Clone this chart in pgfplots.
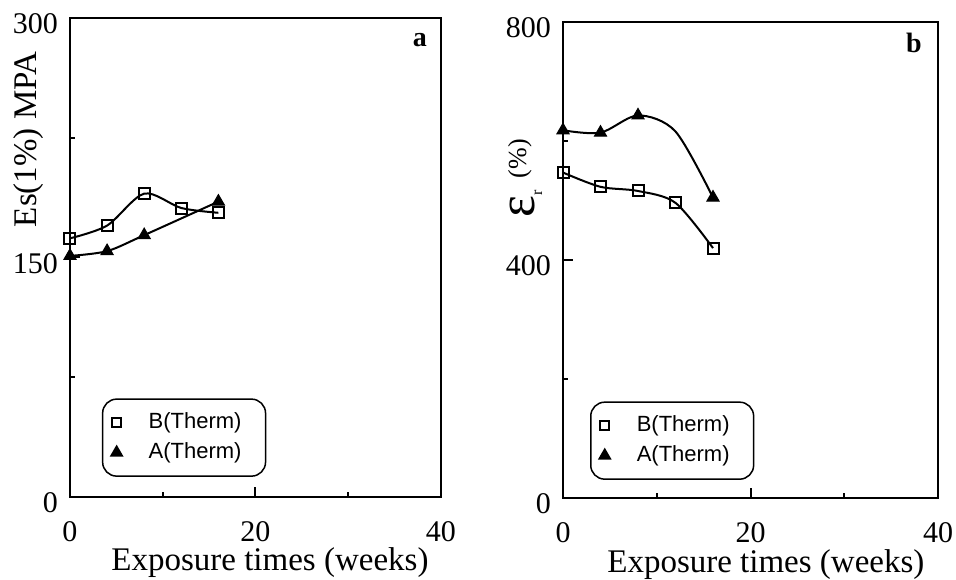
\documentclass[border=0pt]{standalone}
\usepackage{fontspec}
\setmainfont{Liberation Serif}
\newfontfamily\legfont{Liberation Sans}
\usepackage{pgfplots}
\pgfplotsset{compat=1.18}
\begin{document}
\begin{tikzpicture}
\path[use as bounding box] (0,0) rectangle (956pt,579pt);
\pgfplotsset{
 every axis/.append style={
  scale only axis, anchor=south west,
  axis line style={line width=2.2pt},
  tick pos=left, tick align=inside,
  major tick length=10pt, minor tick length=5pt,
  every tick/.style={line width=2pt, black},
  xmin=0, xmax=40, xtick={0,20,40}, minor xtick={10,30},
  ticklabel style={font=\fontsize{30}{30}\selectfont},
  xticklabel style={anchor=base, yshift=-44pt},
  yticklabel style={anchor=east, inner sep=0pt, xshift=-12pt, yshift=-6pt},
  /pgf/number format/assume math mode=true,
  label style={font=\fontsize{33}{33}\selectfont},
  xlabel style={anchor=base},
  legend style={font=\legfont\fontsize{22}{24}\selectfont, rounded corners=14pt, line width=1.5pt, draw=black, anchor=south west,
    inner xsep=5pt, inner ysep=10pt, row sep=3pt,
    nodes={inner xsep=3pt, inner ysep=4pt, text height=15pt, text depth=4pt}},
  legend cell align=left,
  clip=false,
 },
 bleg/.style={legend image code/.code={\draw[only marks, mark=square, mark size=4.5pt, line width=2pt, black] plot coordinates {(0pt,0pt)}; \pgfpathrectangle{\pgfpoint{-9pt}{-6pt}}{\pgfpoint{18pt}{12pt}}\pgfusepath{discard}}},
 aleg/.style={legend image code/.code={\draw[only marks, mark=triangle*, mark size=6.5pt, black] plot coordinates {(0pt,0pt)}; \pgfpathrectangle{\pgfpoint{-9pt}{-6pt}}{\pgfpoint{18pt}{12pt}}\pgfusepath{discard}}},
 bser/.style={smooth, tension=0.5, line width=2pt, black, mark=square, mark size=5.5pt, mark options={fill=white, line width=2pt}},
 aser/.style={smooth, tension=0.5, line width=2pt, black, mark=triangle*, mark size=7pt, mark options={fill=black, line width=1pt}},
}
% left panel
\begin{axis}[
  at={(70pt,82pt)}, width=371pt, height=479pt,
  ymin=0, ymax=300, ytick={0,150,300}, minor ytick={75,225},
  xlabel={Exposure times (weeks)},
  ylabel={Es(1\%) MPA},
  xlabel style={at={(axis description cs:0.539,0)}, yshift=-73pt},
  ylabel style={at={(axis description cs:-0.113,0.747)}, anchor=center},
  legend style={at={(axis description cs:0.086,0.042)}},
]
\addlegendimage{bleg}
\addlegendentry{\rule{20pt}{0pt}B(Therm)\rule{16pt}{0pt}}
\addlegendimage{aleg}
\addlegendentry{\rule{20pt}{0pt}A(Therm)\rule{16pt}{0pt}}
\addplot[bser, forget plot] coordinates {(0,162)(4,170)(8,190)(12,181)(16,178)};
\addplot[aser, forget plot] coordinates {(0,151)(4,154)(8,164)(16,185)};
\node[font=\bfseries\fontsize{28}{28}\selectfont, anchor=base] at (axis description cs:0.943,0.94) {a};
\end{axis}
% right panel
\begin{axis}[
  at={(563pt,81pt)}, width=375pt, height=476pt,
  ymin=0, ymax=800, ytick={0,400,800}, minor ytick={200,600},
  xlabel={Exposure times (weeks)},
  ylabel={{\fontsize{52}{52}\selectfont ε}\raisebox{-8pt}{\fontsize{16}{16}\selectfont r}\hspace{12pt}\raisebox{8pt}{\fontsize{26}{26}\selectfont(\%)}},
  xlabel style={at={(axis description cs:0.541,0)}, yshift=-74pt},
  ylabel style={at={(axis description cs:-0.101,0.672)}, anchor=center},
  legend style={at={(axis description cs:0.072,0.038)}},
]
\addlegendimage{bleg}
\addlegendentry{\rule{20pt}{0pt}B(Therm)\rule{16pt}{0pt}}
\addlegendimage{aleg}
\addlegendentry{\rule{20pt}{0pt}A(Therm)\rule{16pt}{0pt}}
\addplot[bser, forget plot] coordinates {(0,547)(4,523)(8,516)(12,496)(16,420)};
\addplot[aser, forget plot, mark indices={1,2,3,5}] coordinates {(0,618)(4,614)(8,643)(12,616)(16,505)};
\node[font=\bfseries\fontsize{28}{28}\selectfont, anchor=base] at (axis description cs:0.936,0.935) {b};
\end{axis}
\end{tikzpicture}
\end{document}
